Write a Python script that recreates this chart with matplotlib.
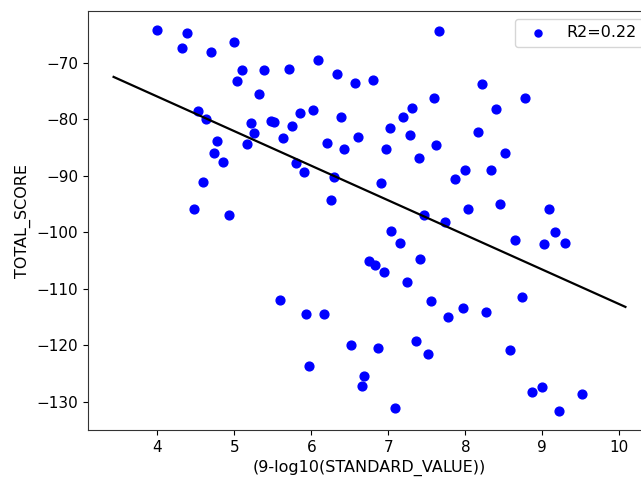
import numpy as np
import matplotlib
matplotlib.use("Agg")
import matplotlib.pyplot as plt

# values
std_x = [4.00, 4.39, 4.32, 4.69, 5.00, 6.09, 5.10, 5.38, 5.71, 6.33,
         6.57, 5.03, 5.32, 4.53, 4.63, 5.22, 5.47, 5.52, 5.85, 6.02,
         6.39, 5.75, 5.26, 5.63, 6.61, 4.78, 5.16, 6.20, 6.42, 4.73,
         4.85, 5.80, 5.90, 6.30, 4.59, 6.25, 4.47, 4.93,
         7.66, 6.80, 8.22, 7.59, 8.77, 7.31, 8.40, 7.19, 7.02, 7.28,
         8.16, 6.97, 7.62, 7.40, 8.52, 7.99, 8.33, 7.86, 6.91, 7.46,
         8.03, 8.45, 9.09,
         7.73, 7.04, 7.15, 8.65, 9.02, 9.16, 9.30, 6.75, 6.82, 7.41,
         6.94, 7.24, 7.55, 8.74, 7.78, 7.97, 8.27, 6.52, 6.87, 7.36,
         7.51, 8.58, 6.69, 6.66, 8.86, 9.00, 9.52, 7.09, 9.22,
         5.59, 5.93, 6.16, 5.97]
total_score = [-64.2, -64.8, -67.4, -68.0, -66.4, -69.5, -71.3, -71.3, -71.1, -71.9,
               -73.5, -73.3, -75.6, -78.6, -79.9, -80.7, -80.3, -80.4, -78.8, -78.4,
               -79.6, -81.2, -82.5, -83.3, -83.1, -83.9, -84.3, -84.1, -85.3, -85.9,
               -87.6, -87.7, -89.3, -90.2, -91.0, -94.2, -95.9, -97.0,
               -64.4, -73.1, -73.8, -76.3, -76.3, -78.0, -78.2, -79.6, -81.6, -82.7,
               -82.2, -85.3, -84.5, -86.8, -85.9, -89.0, -89.0, -90.6, -91.2, -97.0,
               -95.9, -95.0, -95.9,
               -98.2, -99.7, -101.9, -101.3, -102.1, -99.9, -101.9, -105.0, -105.8, -104.8,
               -107.0, -108.8, -112.1, -111.5, -115.0, -113.3, -114.1, -120.0, -120.4, -119.2,
               -121.5, -120.9, -125.5, -127.1, -128.2, -127.4, -128.6, -131.0, -131.6,
               -111.9, -114.4, -114.4, -123.7]

# regression line
fit_slope = -6.12
fit_intercept = -51.5
fit_x = [3.43, 10.08]
r2 = 0.22

plt.rcParams['font.size'] = 11.5
plt.rcParams['xtick.labelsize'] = 11
plt.rcParams['ytick.labelsize'] = 11

fig = plt.figure(figsize=(6.41, 4.8), dpi=100)
ax = fig.add_axes([88 / 641, 50 / 480, 563 / 641, 419 / 480])

ax.scatter(std_x, total_score, c='b', s=40, label='R2=%.2f' % r2)
fx = np.array(fit_x)
ax.plot(fx, fit_slope * fx + fit_intercept, 'k-', lw=1.6)

for sp in ax.spines.values():
    sp.set_color('#333333')

ax.set_xlabel('(9-log10(STANDARD_VALUE))')
ax.set_ylabel('TOTAL_SCORE')
ax.legend(loc='upper right', markerscale=0.8)

fig.savefig('out.png', dpi=100)
